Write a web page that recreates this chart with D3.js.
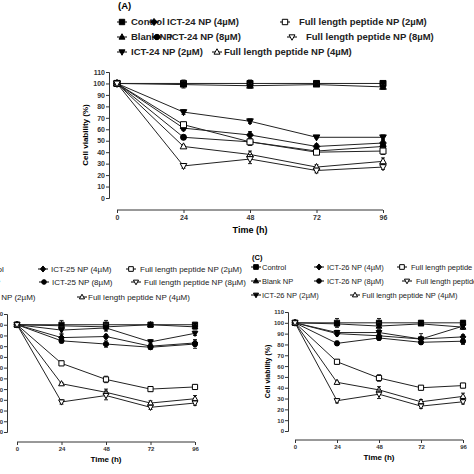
<!DOCTYPE html><html><head><meta charset="utf-8"><script src="https://cdn.jsdelivr.net/npm/d3@7"></script>
<style>body{margin:0;background:#fff}text{font-family:"Liberation Sans",Arial,sans-serif}</style></head><body><svg id="c" width="474" height="474"></svg>
<script>
const times=[0,24,48,72,96];
const yTicks=[0,10,20,30,40,50,60,70,80,90,100,110];
const markers=["square","triangle","triDown","diamond","circle","square","triangle","triDown"];
const filled=[1,1,1,1,1,0,0,0];
// Panel A (ICT-24)
const aNames=["Control","Blank NP","ICT-24 NP (2µM)","ICT-24 NP (4µM)","ICT-24 NP (8µM)","Full length peptide NP (2µM)","Full length peptide NP (4µM)","Full length peptide NP (8µM)"];
const aVals=[[100,100,100,100,100],[100,99,98,99,97],[100,75,67,53,53],[100,61,55,45,48],[100,53,49,41,45],[100,64,49,40,41],[100,45,38,27,32],[100,28,34,24,27]];
const aErr=[[0,3,3,1,1],[0,3,2,1,2],[0,2,2,1,2],[0,2,3,2,2],[0,2,3,2,2],[0,2,3,2,3],[0,1,3,2,3],[0,2,4,2,2]];
// Panel B (ICT-25)
const bNames=["Control","Blank NP","ICT-25 NP (2µM)","ICT-25 NP (4µM)","ICT-25 NP (8µM)","Full length peptide NP (2µM)","Full length peptide NP (4µM)","Full length peptide NP (8µM)"];
const bVals=[[100,100,100,100,100],[100,99,98,100,98],[100,95,97,84,92],[100,88,89,80,83],[100,85,82,79,82],[100,64,49,40,42],[100,45,37,27,31],[100,28,34,23,27]];
const bErr=[[0,4,4,1,1],[0,3,3,1,2],[0,3,3,2,2],[0,3,2,2,3],[0,2,3,2,4],[0,2,3,2,2],[0,1,3,2,3],[0,2,4,2,2]];
// Panel C (ICT-26)
const cNames=["Control","Blank NP","ICT-26 NP (2µM)","ICT-26 NP (4µM)","ICT-26 NP (8µM)","Full length peptide NP (2µM)","Full length peptide NP (4µM)","Full length peptide NP (8µM)"];
const cVals=[[100,100,100,100,100],[100,99,97,99,96],[100,91,91,85,97],[100,90,88,85,87],[100,81,86,82,83],[100,64,49,40,42],[100,45,38,27,32],[100,28,34,23,27]];
const cErr=[[0,4,4,2,2],[0,3,3,1,2],[0,2,2,5,2],[0,2,2,2,2],[0,2,2,2,3],[0,2,3,2,2],[0,1,3,2,3],[0,2,4,2,2]];

const svg=d3.select("#c");
function sym(g,t,x,y,s,f){
  let p;
  if(t==="square")p=`M${x-s},${y-s}h${2*s}v${2*s}h${-2*s}Z`;
  else if(t==="triangle")p=`M${x},${y-s*1.2}L${x+s*1.1},${y+s*0.8}L${x-s*1.1},${y+s*0.8}Z`;
  else if(t==="triDown")p=`M${x},${y+s*1.2}L${x+s*1.1},${y-s*0.8}L${x-s*1.1},${y-s*0.8}Z`;
  else if(t==="diamond")p=`M${x},${y-s*1.3}L${x+s*1.1},${y}L${x},${y+s*1.3}L${x-s*1.1},${y}Z`;
  else p=`M${x-s},${y}a${s},${s} 0 1,0 ${2*s},0a${s},${s} 0 1,0 ${-2*s},0`;
  g.append("path").attr("d",p).attr("fill",f?"#000":"#fff").attr("stroke","#000").attr("stroke-width",1);
}
function panel(o){
  const g=svg.append("g");
  const x=d3.scaleLinear().domain([0,96]).range([o.x0,o.x1]);
  const y=d3.scaleLinear().domain([0,110]).range([o.y0,o.y1]);
  const ya=d3.axisLeft(y).tickValues(yTicks).tickSize(3).tickPadding(1);
  const yg=g.append("g").attr("transform",`translate(${o.ax},0)`).call(ya);
  yg.selectAll("text").attr("font-size",o.tf).attr("font-weight","bold").attr("fill","#333");
  const xa=d3.axisBottom(x).tickValues(times).tickSize(3).tickPadding(2);
  const xg=g.append("g").attr("transform",`translate(0,${o.xy})`).call(xa);
  xg.select(".domain").attr("d",`M${o.x0},0H${o.x1}`);
  xg.selectAll("text").attr("font-size",o.tf).attr("font-weight","bold").attr("fill","#333");
  g.selectAll(".domain,.tick line").attr("stroke","#333");
  g.append("text").attr("x",(o.x0+o.x1)/2).attr("y",o.xy+o.tf*3.3).attr("text-anchor","middle").attr("font-size",o.tf+2).attr("font-weight","bold").text("Time (h)");
  g.append("text").attr("transform",`translate(${o.ax-o.tf*3},${(o.y0+o.y1)/2}) rotate(-90)`).attr("text-anchor","middle").attr("font-size",o.tf+1).attr("font-weight","bold").text("Cell viability (%)");
  const line=d3.line().x((d,i)=>x(times[i])).y(d=>y(d));
  o.vals.forEach((v,k)=>{
    g.append("path").attr("d",line(v)).attr("fill","none").attr("stroke","#222").attr("stroke-width",1);
  });
  o.vals.forEach((v,k)=>{
    v.forEach((d,i)=>{
      const e=o.err[k][i];
      if(e>0){const X=x(times[i]);
        g.append("path").attr("d",`M${X},${y(d+e)}V${y(d-e)}M${X-2},${y(d+e)}h4M${X-2},${y(d-e)}h4`).attr("stroke","#222").attr("fill","none");}
      sym(g,markers[k],x(times[i]),y(d),o.ms,filled[k]);
    });
  });
  if(o.label)g.append("text").attr("x",o.label[0]).attr("y",o.label[1]).attr("font-size",o.lf).attr("font-weight","bold").text(o.label[2]);
  o.leg.forEach((p,k)=>{
    g.append("path").attr("d",`M${p[0]-5},${p[2]}h10`).attr("stroke","#000");
    sym(g,markers[k],p[0],p[2],o.ms*0.9,filled[k]);
    g.append("text").attr("x",p[1]).attr("y",p[2]).attr("dy","0.35em").attr("font-size",o.lf).attr("font-weight",o.lw).attr("fill","#222").text(o.names[k]);
  });
}
panel({x0:117,x1:383,y0:198,y1:72,ax:109,xy:210,tf:7,ms:3,lf:9.5,lw:"bold",vals:aVals,err:aErr,names:aNames,label:[118,9,"(A)"],
  leg:[[122,131,22],[122,131,37],[122,131,52],[154,167,22],[157,169,37],[285,299,22],[217,224,52],[292,306,37]]});
panel({x0:17,x1:195,y0:432,y1:314,ax:7,xy:442,tf:6,ms:2.6,lf:8,lw:"normal",vals:bVals,err:bErr,names:bNames,label:[-30,256,"(B)"],
  leg:[[-30,-22,269],[-30,-33,282],[-30,-25,297],[43,51,269],[44,52,282],[131,140,269],[82,88,297],[136,144,282]]});
panel({x0:295,x1:463,y0:431,y1:312,ax:288,xy:440,tf:6,ms:2.6,lf:7.5,lw:"normal",vals:cVals,err:cErr,names:cNames,label:[252,260,"(C)"],
  leg:[[256,262,267],[256,262,281],[256,262,295],[319,327,267],[319,327,281],[402,411,267],[355,362,295],[407,416,281]]});
</script></body></html>
